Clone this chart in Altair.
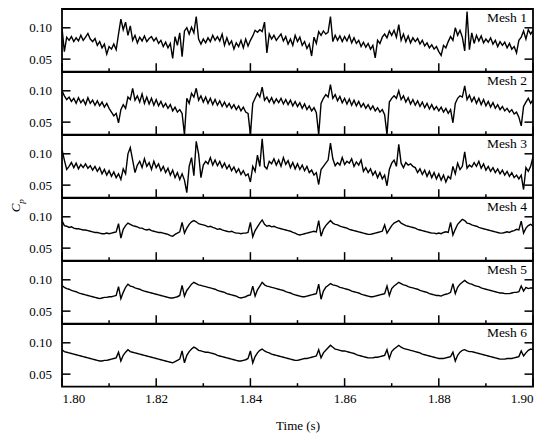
import altair as alt
import pandas as pd

T0 = 1.80
DT = 0.0005

MESH_1 = [
    0.100, 0.062, 0.085, 0.080, 0.086, 0.078, 0.084, 0.079, 0.088, 0.080,
    0.085, 0.091, 0.082, 0.078, 0.083, 0.072, 0.078, 0.068, 0.074, 0.058,
    0.070, 0.066, 0.074, 0.065, 0.090, 0.114, 0.097, 0.109, 0.088, 0.103,
    0.080, 0.088, 0.076, 0.085, 0.079, 0.087, 0.078, 0.083, 0.086, 0.079,
    0.084, 0.075, 0.080, 0.070, 0.077, 0.068, 0.075, 0.051, 0.086, 0.072,
    0.092, 0.054, 0.095, 0.100, 0.090, 0.101, 0.092, 0.118, 0.082, 0.074,
    0.082, 0.076, 0.084, 0.078, 0.088, 0.080, 0.086, 0.079, 0.090, 0.072,
    0.084, 0.073, 0.079, 0.066, 0.076, 0.070, 0.080, 0.068, 0.082, 0.071,
    0.080, 0.087, 0.096, 0.093, 0.097, 0.094, 0.109, 0.060, 0.090, 0.082,
    0.088, 0.080, 0.085, 0.090, 0.079, 0.086, 0.074, 0.082, 0.072, 0.088,
    0.078, 0.085, 0.072, 0.078, 0.067, 0.074, 0.055, 0.085, 0.075, 0.094,
    0.088, 0.095, 0.090, 0.093, 0.118, 0.078, 0.088, 0.080, 0.087, 0.078,
    0.086, 0.079, 0.088, 0.076, 0.084, 0.075, 0.080, 0.070, 0.077, 0.069,
    0.075, 0.066, 0.072, 0.052, 0.080, 0.075, 0.085, 0.090, 0.084, 0.095,
    0.088, 0.096, 0.085, 0.105, 0.080, 0.090, 0.078, 0.087, 0.076, 0.084,
    0.078, 0.083, 0.074, 0.080, 0.071, 0.076, 0.068, 0.073, 0.066, 0.070,
    0.062, 0.056, 0.072, 0.068, 0.078, 0.086, 0.080, 0.100, 0.088, 0.096,
    0.085, 0.063, 0.126, 0.065, 0.092, 0.075, 0.088, 0.079, 0.087, 0.076,
    0.082, 0.077, 0.084, 0.074, 0.080, 0.070, 0.078, 0.072, 0.077, 0.068,
    0.075, 0.066, 0.070, 0.060, 0.080, 0.085, 0.095, 0.082, 0.097, 0.090,
    0.096,
]

MESH_2 = [
    0.100, 0.092, 0.086, 0.090, 0.083, 0.088, 0.080, 0.089, 0.081, 0.086,
    0.078, 0.089, 0.080, 0.085, 0.077, 0.084, 0.076, 0.082, 0.074, 0.080,
    0.072, 0.066, 0.060, 0.064, 0.049, 0.070, 0.078, 0.072, 0.090, 0.086,
    0.104, 0.085, 0.092, 0.082, 0.095, 0.080, 0.090, 0.079, 0.088, 0.077,
    0.086, 0.076, 0.083, 0.074, 0.080, 0.072, 0.078, 0.068, 0.074, 0.066,
    0.070, 0.064, 0.030, 0.088, 0.080, 0.096, 0.090, 0.104, 0.085, 0.092,
    0.082, 0.090, 0.080, 0.088, 0.078, 0.086, 0.077, 0.084, 0.075, 0.082,
    0.074, 0.080, 0.072, 0.078, 0.070, 0.076, 0.068, 0.074, 0.066, 0.064,
    0.030, 0.080, 0.088, 0.096, 0.090, 0.106, 0.085, 0.090, 0.082, 0.089,
    0.080, 0.087, 0.081, 0.088, 0.079, 0.086, 0.078, 0.085, 0.076, 0.083,
    0.075, 0.081, 0.072, 0.079, 0.070, 0.076, 0.068, 0.073, 0.065, 0.030,
    0.080, 0.088, 0.094, 0.090, 0.110, 0.088, 0.094, 0.084, 0.091, 0.081,
    0.088, 0.079, 0.087, 0.077, 0.085, 0.076, 0.083, 0.074, 0.080, 0.072,
    0.078, 0.070, 0.076, 0.068, 0.073, 0.066, 0.070, 0.062, 0.030, 0.082,
    0.088, 0.092, 0.088, 0.100, 0.086, 0.092, 0.082, 0.089, 0.079, 0.086,
    0.077, 0.084, 0.075, 0.082, 0.073, 0.080, 0.071, 0.078, 0.070, 0.075,
    0.068, 0.074, 0.066, 0.072, 0.064, 0.070, 0.049, 0.080, 0.088, 0.092,
    0.090, 0.108, 0.086, 0.093, 0.083, 0.090, 0.080, 0.088, 0.078, 0.086,
    0.076, 0.083, 0.074, 0.081, 0.072, 0.078, 0.070, 0.075, 0.068, 0.072,
    0.066, 0.070, 0.063, 0.066, 0.058, 0.044, 0.075, 0.082, 0.088, 0.080,
    0.086,
]

MESH_3 = [
    0.107, 0.090, 0.075, 0.080, 0.086, 0.078, 0.085, 0.076, 0.083, 0.078,
    0.084, 0.077, 0.081, 0.074, 0.080, 0.072, 0.078, 0.068, 0.075, 0.066,
    0.073, 0.064, 0.071, 0.062, 0.068, 0.059, 0.076, 0.068, 0.100, 0.110,
    0.090, 0.070, 0.082, 0.088, 0.078, 0.092, 0.080, 0.086, 0.075, 0.088,
    0.078, 0.084, 0.073, 0.080, 0.070, 0.077, 0.066, 0.074, 0.062, 0.070,
    0.059, 0.068, 0.058, 0.038, 0.080, 0.094, 0.065, 0.120, 0.100, 0.062,
    0.082, 0.088, 0.084, 0.094, 0.082, 0.090, 0.081, 0.088, 0.078, 0.085,
    0.076, 0.082, 0.073, 0.079, 0.070, 0.076, 0.067, 0.073, 0.065, 0.068,
    0.055, 0.080, 0.072, 0.098, 0.080, 0.124, 0.080, 0.076, 0.088, 0.084,
    0.092, 0.082, 0.090, 0.080, 0.094, 0.083, 0.089, 0.078, 0.086, 0.076,
    0.084, 0.075, 0.082, 0.073, 0.080, 0.070, 0.074, 0.066, 0.070, 0.051,
    0.075, 0.080, 0.085, 0.090, 0.117, 0.092, 0.081, 0.086, 0.082, 0.094,
    0.083, 0.088, 0.085, 0.092, 0.080, 0.087, 0.082, 0.090, 0.072, 0.078,
    0.070, 0.076, 0.066, 0.072, 0.062, 0.070, 0.060, 0.066, 0.049, 0.075,
    0.085, 0.090, 0.080, 0.115, 0.085, 0.078, 0.086, 0.082, 0.084, 0.080,
    0.078, 0.070, 0.076, 0.067, 0.074, 0.064, 0.072, 0.062, 0.070, 0.060,
    0.068, 0.058, 0.066, 0.055, 0.064, 0.060, 0.080, 0.068, 0.085, 0.075,
    0.080, 0.103, 0.077, 0.082, 0.079, 0.086, 0.080, 0.088, 0.077, 0.084,
    0.074, 0.080, 0.072, 0.078, 0.070, 0.076, 0.068, 0.074, 0.066, 0.072,
    0.064, 0.070, 0.062, 0.066, 0.060, 0.066, 0.043, 0.078, 0.072, 0.080,
    0.095,
]

MESH_4 = [
    0.094, 0.086, 0.085, 0.083, 0.084, 0.082, 0.081, 0.081, 0.080, 0.079,
    0.079, 0.078, 0.077, 0.076, 0.075, 0.075, 0.074, 0.073, 0.073, 0.074,
    0.073, 0.074, 0.075, 0.076, 0.089, 0.066, 0.080, 0.086, 0.090, 0.088,
    0.086, 0.085, 0.084, 0.082, 0.082, 0.080, 0.079, 0.080, 0.078, 0.077,
    0.076, 0.075, 0.075, 0.074, 0.073, 0.072, 0.070, 0.069, 0.072, 0.074,
    0.076, 0.091, 0.074, 0.082, 0.088, 0.092, 0.094, 0.092, 0.089, 0.088,
    0.087, 0.086, 0.084, 0.085, 0.083, 0.082, 0.080, 0.081, 0.079, 0.078,
    0.077, 0.076, 0.077, 0.075, 0.074, 0.074, 0.073, 0.074, 0.074, 0.075,
    0.091, 0.068, 0.078, 0.084, 0.090, 0.095, 0.088, 0.085, 0.086, 0.084,
    0.085, 0.083, 0.082, 0.081, 0.080, 0.079, 0.078, 0.077, 0.075, 0.074,
    0.072, 0.071, 0.072, 0.073, 0.074, 0.075, 0.076, 0.077, 0.076, 0.094,
    0.069, 0.080, 0.086, 0.090, 0.094, 0.090, 0.088, 0.087, 0.085, 0.084,
    0.083, 0.082, 0.080, 0.079, 0.078, 0.077, 0.076, 0.075, 0.074, 0.073,
    0.072, 0.072, 0.073, 0.074, 0.075, 0.076, 0.077, 0.087, 0.074, 0.080,
    0.086, 0.090, 0.092, 0.094, 0.090, 0.088, 0.086, 0.085, 0.084, 0.083,
    0.082, 0.080, 0.079, 0.078, 0.077, 0.076, 0.075, 0.074, 0.074, 0.073,
    0.074, 0.073, 0.075, 0.076, 0.075, 0.091, 0.071, 0.080, 0.088, 0.092,
    0.096, 0.094, 0.090, 0.089, 0.087, 0.086, 0.085, 0.083, 0.082, 0.081,
    0.080, 0.079, 0.078, 0.077, 0.076, 0.075, 0.074, 0.074, 0.075, 0.076,
    0.075, 0.077, 0.078, 0.080, 0.079, 0.093, 0.074, 0.082, 0.086, 0.088,
    0.085,
]

MESH_5 = [
    0.091, 0.088, 0.086, 0.085, 0.083, 0.082, 0.081, 0.079, 0.078, 0.077,
    0.076, 0.075, 0.074, 0.073, 0.072, 0.071, 0.070, 0.071, 0.072, 0.072,
    0.073, 0.073, 0.074, 0.075, 0.089, 0.070, 0.080, 0.088, 0.093, 0.090,
    0.089, 0.087, 0.086, 0.085, 0.083, 0.082, 0.081, 0.080, 0.079, 0.078,
    0.077, 0.076, 0.075, 0.074, 0.073, 0.072, 0.071, 0.071, 0.072, 0.073,
    0.075, 0.091, 0.074, 0.083, 0.088, 0.093, 0.096, 0.094, 0.092, 0.091,
    0.090, 0.089, 0.088, 0.087, 0.086, 0.085, 0.083, 0.082, 0.081, 0.080,
    0.078, 0.077, 0.076, 0.075, 0.074, 0.072, 0.071, 0.072, 0.073, 0.075,
    0.076, 0.090, 0.074, 0.084, 0.090, 0.096, 0.092, 0.090, 0.089, 0.088,
    0.087, 0.086, 0.085, 0.084, 0.083, 0.081, 0.080, 0.079, 0.077, 0.076,
    0.075, 0.074, 0.073, 0.073, 0.074, 0.075, 0.076, 0.077, 0.078, 0.093,
    0.069, 0.082, 0.088, 0.091, 0.094, 0.092, 0.091, 0.090, 0.088, 0.087,
    0.086, 0.085, 0.084, 0.082, 0.081, 0.080, 0.079, 0.077, 0.076, 0.075,
    0.074, 0.073, 0.073, 0.074, 0.075, 0.076, 0.077, 0.078, 0.090, 0.075,
    0.086, 0.090, 0.093, 0.096, 0.094, 0.092, 0.091, 0.089, 0.088, 0.087,
    0.086, 0.085, 0.083, 0.082, 0.081, 0.080, 0.078, 0.077, 0.076, 0.075,
    0.075, 0.074, 0.076, 0.077, 0.078, 0.080, 0.094, 0.078, 0.088, 0.093,
    0.096, 0.099, 0.096, 0.094, 0.093, 0.091, 0.090, 0.089, 0.087, 0.086,
    0.085, 0.084, 0.083, 0.082, 0.081, 0.080, 0.079, 0.079, 0.078, 0.078,
    0.078, 0.079, 0.080, 0.080, 0.081, 0.090, 0.082, 0.088, 0.086, 0.087,
    0.087,
]

MESH_6 = [
    0.089, 0.086, 0.085, 0.084, 0.083, 0.082, 0.081, 0.080, 0.079, 0.078,
    0.077, 0.076, 0.075, 0.074, 0.073, 0.072, 0.071, 0.071, 0.072, 0.072,
    0.073, 0.074, 0.075, 0.076, 0.085, 0.071, 0.080, 0.085, 0.089, 0.086,
    0.085, 0.084, 0.083, 0.082, 0.081, 0.080, 0.079, 0.078, 0.077, 0.076,
    0.075, 0.074, 0.073, 0.072, 0.071, 0.070, 0.069, 0.068, 0.070, 0.072,
    0.074, 0.087, 0.068, 0.080, 0.086, 0.090, 0.093, 0.091, 0.088, 0.087,
    0.086, 0.085, 0.085, 0.084, 0.083, 0.082, 0.080, 0.079, 0.078, 0.077,
    0.076, 0.075, 0.074, 0.073, 0.072, 0.071, 0.071, 0.072, 0.073, 0.075,
    0.087, 0.068, 0.078, 0.084, 0.088, 0.090, 0.087, 0.085, 0.084, 0.082,
    0.081, 0.080, 0.079, 0.078, 0.077, 0.076, 0.075, 0.074, 0.073, 0.072,
    0.072, 0.073, 0.074, 0.075, 0.075, 0.076, 0.077, 0.078, 0.079, 0.089,
    0.076, 0.084, 0.088, 0.092, 0.096, 0.093, 0.090, 0.089, 0.088, 0.087,
    0.087, 0.086, 0.085, 0.084, 0.083, 0.081, 0.080, 0.079, 0.078, 0.077,
    0.076, 0.076, 0.076, 0.077, 0.077, 0.078, 0.079, 0.080, 0.089, 0.075,
    0.086, 0.090, 0.093, 0.096, 0.093, 0.091, 0.090, 0.089, 0.088, 0.087,
    0.086, 0.085, 0.084, 0.082, 0.081, 0.080, 0.079, 0.078, 0.077, 0.076,
    0.075, 0.075, 0.075, 0.076, 0.077, 0.078, 0.085, 0.071, 0.080, 0.085,
    0.088, 0.089, 0.087, 0.086, 0.086, 0.085, 0.084, 0.083, 0.082, 0.081,
    0.080, 0.079, 0.078, 0.077, 0.076, 0.075, 0.074, 0.074, 0.074, 0.075,
    0.075, 0.075, 0.076, 0.077, 0.078, 0.087, 0.079, 0.084, 0.088, 0.090,
    0.089,
]

SERIES = [MESH_1, MESH_2, MESH_3, MESH_4, MESH_5, MESH_6]
MESH_NAMES = ["Mesh 1", "Mesh 2", "Mesh 3", "Mesh 4", "Mesh 5", "Mesh 6"]
X_MAJOR = [1.80, 1.82, 1.84, 1.86, 1.88, 1.90]
X_MINOR = [1.81, 1.83, 1.85, 1.87, 1.89]
Y_TICKS = [0.05, 0.10]
X_DOMAIN = [1.80, 1.90]
Y_DOMAIN = [0.03, 0.13]

FONT = "Liberation Serif"
W = 471
H = 62.67
MAJ = 8.5
MIN = 3.5

xs = alt.Scale(domain=X_DOMAIN, nice=False, zero=False)
ys = alt.Scale(domain=Y_DOMAIN, nice=False, zero=False)


def panel(values, name, bottom=False, ylabel=False):
    df = pd.DataFrame({"t": [T0 + DT * i for i in range(len(values))], "cp": values})
    if bottom:
        xaxis = alt.Axis(values=X_MAJOR, format=".2f", ticks=False, domain=False,
                         grid=False, labelPadding=6, title="Time (s)", titlePadding=14,
                         labelFont=FONT, titleFont=FONT, labelFontSize=13, titleFontSize=13,
                         labelColor="black", titleColor="black", titleFontWeight="normal")
    else:
        xaxis = alt.Axis(labels=False, ticks=False, domain=False, grid=False, title="")
    yaxis = alt.Axis(values=Y_TICKS, format=".2f", ticks=False, domain=False,
                     grid=False, labelPadding=10.5, title="",
                     labelFont=FONT, labelFontSize=13, labelColor="black")
    line = alt.Chart(df).mark_line(color="black", strokeWidth=1.4, clip=True).encode(
        x=alt.X("t:Q", scale=xs, axis=xaxis),
        y=alt.Y("cp:Q", scale=ys, axis=yaxis),
    )
    maj = alt.Chart(pd.DataFrame({"t": X_MAJOR})).mark_rule(color="black", strokeWidth=1.5).encode(
        x=alt.X("t:Q", scale=xs, axis=xaxis), y=alt.value(H), y2=alt.value(H - MAJ))
    mnr = alt.Chart(pd.DataFrame({"t": X_MINOR})).mark_rule(color="black", strokeWidth=1.5).encode(
        x=alt.X("t:Q", scale=xs, axis=xaxis), y=alt.value(H), y2=alt.value(H - MIN))
    yl = alt.Chart(pd.DataFrame({"cp": Y_TICKS})).mark_rule(color="black", strokeWidth=1.5).encode(
        y=alt.Y("cp:Q", scale=ys, axis=yaxis), x=alt.value(0), x2=alt.value(MAJ))
    yr = alt.Chart(pd.DataFrame({"cp": Y_TICKS})).mark_rule(color="black", strokeWidth=1.5).encode(
        y=alt.Y("cp:Q", scale=ys, axis=yaxis), x=alt.value(W - MAJ), x2=alt.value(W))
    lab = alt.Chart(pd.DataFrame({"name": [name]})).mark_text(
        align="right", baseline="alphabetic", font=FONT, fontSize=13.5, color="black"
    ).encode(x=alt.value(W - 6), y=alt.value(12.5), text="name:N")
    layers = [line, maj, mnr, yl, yr, lab]
    if ylabel:
        c = alt.Chart(pd.DataFrame({"s": ["C"]})).mark_text(
            align="center", baseline="middle", angle=270, font=FONT, fontSize=13,
            fontStyle="italic", color="black"
        ).encode(x=alt.value(-46.2), y=alt.value(10), text="s:N")
        p = alt.Chart(pd.DataFrame({"s": ["p"]})).mark_text(
            align="center", baseline="middle", angle=270, font=FONT, fontSize=9,
            fontStyle="italic", color="black"
        ).encode(x=alt.value(-40.7), y=alt.value(3.5), text="s:N")
        layers += [c, p]
    return alt.layer(*layers).properties(width=W, height=H)


panels = [panel(SERIES[k], MESH_NAMES[k], bottom=(k == 5), ylabel=(k == 3)) for k in range(6)]

chart = alt.vconcat(*panels, spacing=0, bounds="flush").configure(
    font=FONT
).configure_axis(
    labelFont=FONT, titleFont=FONT, labelFontSize=13, titleFontSize=13,
    labelColor="black", titleColor="black", titleFontWeight="normal"
).configure_text(font=FONT).configure_view(
    stroke="black", strokeWidth=1.8
).properties(padding={"left": 0, "top": 0, "right": 5, "bottom": 5})

chart.save("out.html", embed_options={"renderer": "svg", "actions": False})
